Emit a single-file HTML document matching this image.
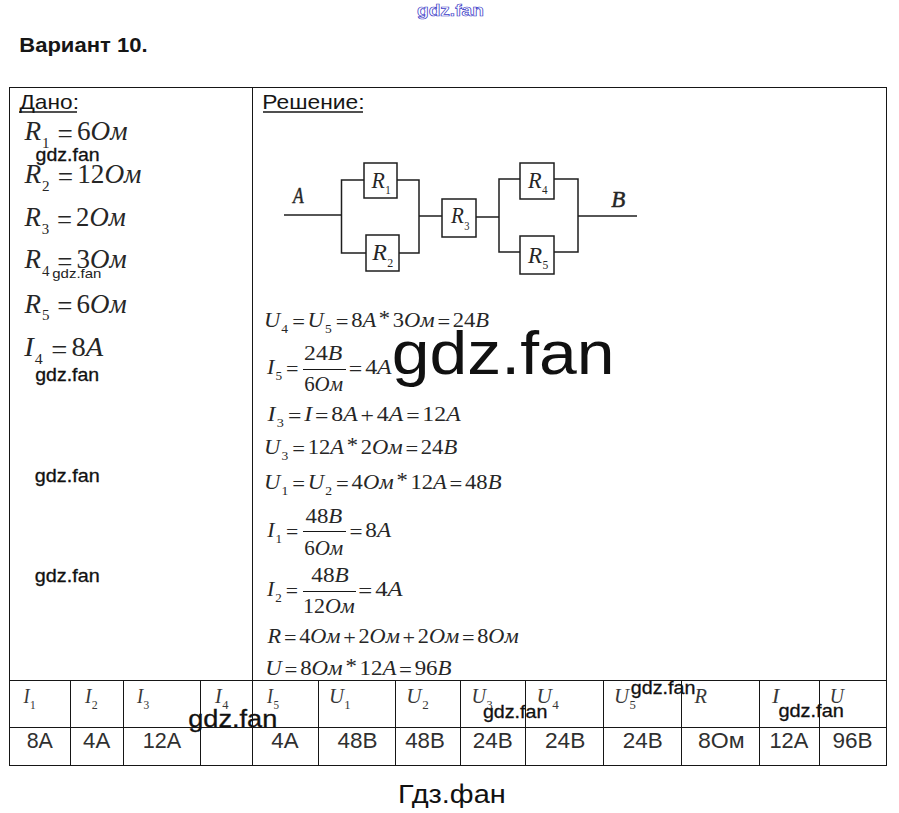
<!DOCTYPE html>
<html><head><meta charset="utf-8"><style>
html,body{margin:0;padding:0;background:#fff;}
svg{display:block;}
</style></head><body>
<svg width="899" height="813" viewBox="0 0 899 813">
<rect width="899" height="813" fill="#fff"/>
<line x1="9" y1="87.5" x2="887" y2="87.5" stroke="#161616" stroke-width="1"/>
<line x1="9" y1="680.5" x2="887" y2="680.5" stroke="#161616" stroke-width="1"/>
<line x1="9" y1="727.5" x2="887" y2="727.5" stroke="#161616" stroke-width="1"/>
<line x1="9" y1="765.5" x2="887" y2="765.5" stroke="#161616" stroke-width="1"/>
<line x1="9.5" y1="87" x2="9.5" y2="766" stroke="#161616" stroke-width="1"/>
<line x1="252.5" y1="87" x2="252.5" y2="766" stroke="#161616" stroke-width="1"/>
<line x1="886.5" y1="87" x2="886.5" y2="766" stroke="#161616" stroke-width="1"/>
<line x1="70.5" y1="680" x2="70.5" y2="766" stroke="#161616" stroke-width="1"/>
<line x1="123.5" y1="680" x2="123.5" y2="766" stroke="#161616" stroke-width="1"/>
<line x1="200.5" y1="680" x2="200.5" y2="766" stroke="#161616" stroke-width="1"/>
<line x1="318.5" y1="680" x2="318.5" y2="766" stroke="#161616" stroke-width="1"/>
<line x1="395.5" y1="680" x2="395.5" y2="766" stroke="#161616" stroke-width="1"/>
<line x1="460.5" y1="680" x2="460.5" y2="766" stroke="#161616" stroke-width="1"/>
<line x1="525.5" y1="680" x2="525.5" y2="766" stroke="#161616" stroke-width="1"/>
<line x1="603.5" y1="680" x2="603.5" y2="766" stroke="#161616" stroke-width="1"/>
<line x1="681.5" y1="680" x2="681.5" y2="766" stroke="#161616" stroke-width="1"/>
<line x1="759.5" y1="680" x2="759.5" y2="766" stroke="#161616" stroke-width="1"/>
<line x1="819.5" y1="680" x2="819.5" y2="766" stroke="#161616" stroke-width="1"/>
<line x1="19" y1="112" x2="77" y2="112" stroke="#161616" stroke-width="1.7"/>
<line x1="263" y1="112" x2="363" y2="112" stroke="#161616" stroke-width="1.7"/>
<polyline points="284,215 341.5,215" fill="none" stroke="#1e1e1e" stroke-width="1.5"/>
<polyline points="364,180 341.5,180 341.5,253 366,253" fill="none" stroke="#1e1e1e" stroke-width="1.5"/>
<polyline points="397,180 419,180 419,253 399,253" fill="none" stroke="#1e1e1e" stroke-width="1.5"/>
<polyline points="419,216 442,216" fill="none" stroke="#1e1e1e" stroke-width="1.5"/>
<rect x="364" y="163" width="33" height="35" fill="none" stroke="#1e1e1e" stroke-width="1.5"/>
<rect x="366" y="235" width="33" height="36" fill="none" stroke="#1e1e1e" stroke-width="1.5"/>
<rect x="442" y="199" width="34" height="38" fill="none" stroke="#1e1e1e" stroke-width="1.5"/>
<polyline points="476,217 499,217" fill="none" stroke="#1e1e1e" stroke-width="1.5"/>
<polyline points="520,179 499,179 499,252 520,252" fill="none" stroke="#1e1e1e" stroke-width="1.5"/>
<polyline points="554,179 578,179 578,252 554,252" fill="none" stroke="#1e1e1e" stroke-width="1.5"/>
<rect x="520" y="163" width="34" height="36" fill="none" stroke="#1e1e1e" stroke-width="1.5"/>
<rect x="520" y="236" width="34" height="38" fill="none" stroke="#1e1e1e" stroke-width="1.5"/>
<polyline points="578,216 637,216" fill="none" stroke="#1e1e1e" stroke-width="1.5"/>
<line x1="303" y1="369.5" x2="346" y2="369.5" stroke="#161616" stroke-width="1"/>
<line x1="303" y1="531.5" x2="346" y2="531.5" stroke="#161616" stroke-width="1"/>
<line x1="303" y1="591.5" x2="356" y2="591.5" stroke="#161616" stroke-width="1"/>
<text x="417.02" y="16.4" font-family="Liberation Sans" font-size="17" fill="#ffffff" font-weight="bold" textLength="66.79" lengthAdjust="spacingAndGlyphs" stroke="#3c3cc8" stroke-width="0.7">gdz.fan</text>
<text x="19.22" y="51.7" font-family="Liberation Sans" font-size="21" fill="#161616" font-weight="bold" textLength="128.34" lengthAdjust="spacingAndGlyphs">Вариант 10.</text>
<text x="19.46" y="108.9" font-family="Liberation Sans" font-size="21" fill="#161616" textLength="59.49" lengthAdjust="spacingAndGlyphs">Дано:</text>
<text x="262.38" y="108.9" font-family="Liberation Sans" font-size="21" fill="#161616" textLength="102.20" lengthAdjust="spacingAndGlyphs">Решение:</text>
<text x="24.44" y="140" font-family="Liberation Serif" font-size="27" fill="#262626" textLength="103.06" lengthAdjust="spacingAndGlyphs"><tspan font-style="italic">R</tspan><tspan font-style="normal" font-size="15" dy="7.8" dx="1.00">1</tspan><tspan font-style="normal" dy="-5.1" dx="8.00">=</tspan><tspan font-style="normal" dy="-2.7" dx="4.00">6</tspan><tspan font-style="italic">O</tspan><tspan font-style="italic">м</tspan></text>
<text x="24.45" y="183" font-family="Liberation Serif" font-size="27" fill="#262626" textLength="117.07" lengthAdjust="spacingAndGlyphs"><tspan font-style="italic">R</tspan><tspan font-style="normal" font-size="15" dy="7.8" dx="1.00">2</tspan><tspan font-style="normal" dy="-5.1" dx="8.00">=</tspan><tspan font-style="normal" dy="-2.7" dx="4.00">1</tspan><tspan font-style="normal">2</tspan><tspan font-style="italic">O</tspan><tspan font-style="italic">м</tspan></text>
<text x="24.44" y="226" font-family="Liberation Serif" font-size="27" fill="#262626" textLength="101.34" lengthAdjust="spacingAndGlyphs"><tspan font-style="italic">R</tspan><tspan font-style="normal" font-size="15" dy="7.8" dx="1.00">3</tspan><tspan font-style="normal" dy="-5.1" dx="8.00">=</tspan><tspan font-style="normal" dy="-2.7" dx="4.00">2</tspan><tspan font-style="italic">O</tspan><tspan font-style="italic">м</tspan></text>
<text x="24.45" y="268.4" font-family="Liberation Serif" font-size="27" fill="#262626" textLength="102.14" lengthAdjust="spacingAndGlyphs"><tspan font-style="italic">R</tspan><tspan font-style="normal" font-size="15" dy="7.8" dx="1.00">4</tspan><tspan font-style="normal" dy="-5.1" dx="8.00">=</tspan><tspan font-style="normal" dy="-2.7" dx="4.00">3</tspan><tspan font-style="italic">O</tspan><tspan font-style="italic">м</tspan></text>
<text x="24.45" y="312.5" font-family="Liberation Serif" font-size="27" fill="#262626" textLength="102.14" lengthAdjust="spacingAndGlyphs"><tspan font-style="italic">R</tspan><tspan font-style="normal" font-size="15" dy="7.8" dx="1.00">5</tspan><tspan font-style="normal" dy="-5.1" dx="8.00">=</tspan><tspan font-style="normal" dy="-2.7" dx="4.00">6</tspan><tspan font-style="italic">O</tspan><tspan font-style="italic">м</tspan></text>
<text x="24.19" y="356" font-family="Liberation Serif" font-size="27" fill="#262626" textLength="79.02" lengthAdjust="spacingAndGlyphs"><tspan font-style="italic">I</tspan><tspan font-style="normal" font-size="15" dy="7.8" dx="1.00">4</tspan><tspan font-style="normal" dy="-5.1" dx="8.00">=</tspan><tspan font-style="normal" dy="-2.7" dx="4.00">8</tspan><tspan font-style="italic">A</tspan></text>
<text x="293.09" y="203" font-family="Liberation Serif" font-size="24" fill="#262626" font-style="italic" textLength="10.67" lengthAdjust="spacingAndGlyphs" stroke="#262626" stroke-width="0.5">A</text>
<text x="611.20" y="207" font-family="Liberation Serif" font-size="24" fill="#262626" font-style="italic" textLength="14.01" lengthAdjust="spacingAndGlyphs" stroke="#262626" stroke-width="0.5">B</text>
<text x="371.40" y="187.6" font-family="Liberation Serif" font-size="24" fill="#262626" textLength="19.28" lengthAdjust="spacingAndGlyphs"><tspan font-style="italic">R</tspan><tspan font-style="normal" font-size="12" dy="6.5" dx="0.50">1</tspan></text>
<text x="372.25" y="260" font-family="Liberation Serif" font-size="24" fill="#262626" textLength="21.09" lengthAdjust="spacingAndGlyphs"><tspan font-style="italic">R</tspan><tspan font-style="normal" font-size="12" dy="6.5" dx="0.50">2</tspan></text>
<text x="450.89" y="223.4" font-family="Liberation Serif" font-size="24" fill="#262626" textLength="18.53" lengthAdjust="spacingAndGlyphs"><tspan font-style="italic">R</tspan><tspan font-style="normal" font-size="12" dy="6.5" dx="0.50">3</tspan></text>
<text x="527.94" y="187.9" font-family="Liberation Serif" font-size="24" fill="#262626" textLength="19.63" lengthAdjust="spacingAndGlyphs"><tspan font-style="italic">R</tspan><tspan font-style="normal" font-size="12" dy="6.5" dx="0.50">4</tspan></text>
<text x="527.95" y="262.6" font-family="Liberation Serif" font-size="24" fill="#262626" textLength="20.37" lengthAdjust="spacingAndGlyphs"><tspan font-style="italic">R</tspan><tspan font-style="normal" font-size="12" dy="6.5" dx="0.50">5</tspan></text>
<text x="263.95" y="326.7" font-family="Liberation Serif" font-size="20" fill="#262626" textLength="225.17" lengthAdjust="spacingAndGlyphs"><tspan font-style="italic">U</tspan><tspan font-style="normal" font-size="12.0" dy="6.0" dx="1.00">4</tspan><tspan font-style="normal" dy="-4.0" dx="3.60">=</tspan><tspan font-style="italic" dy="-2.0" dx="2.40">U</tspan><tspan font-style="normal" font-size="12.0" dy="6.0" dx="1.00">5</tspan><tspan font-style="normal" dy="-4.0" dx="3.60">=</tspan><tspan font-style="normal" dy="-2.0" dx="2.40">8</tspan><tspan font-style="italic">A</tspan><tspan font-style="normal" dy="-1.8" dx="2.40">*</tspan><tspan font-style="normal" dy="1.8" dx="2.40">3</tspan><tspan font-style="italic">O</tspan><tspan font-style="italic">м</tspan><tspan font-style="normal" dy="2.0" dx="2.40">=</tspan><tspan font-style="normal" dy="-2.0" dx="2.40">2</tspan><tspan font-style="normal">4</tspan><tspan font-style="italic">B</tspan></text>
<text x="266.93" y="374.3" font-family="Liberation Serif" font-size="20" fill="#262626" textLength="31.59" lengthAdjust="spacingAndGlyphs"><tspan font-style="italic">I</tspan><tspan font-style="normal" font-size="12.0" dy="6.0" dx="1.00">5</tspan><tspan font-style="normal" dy="-4.0" dx="3.60">=</tspan></text>
<text x="304.06" y="360" font-family="Liberation Serif" font-size="20" fill="#262626" textLength="38.15" lengthAdjust="spacingAndGlyphs"><tspan font-style="normal">2</tspan><tspan font-style="normal">4</tspan><tspan font-style="italic">B</tspan></text>
<text x="304.21" y="391" font-family="Liberation Serif" font-size="20" fill="#262626" textLength="38.78" lengthAdjust="spacingAndGlyphs"><tspan font-style="normal">6</tspan><tspan font-style="italic">O</tspan><tspan font-style="italic">м</tspan></text>
<text x="346.41" y="374.3" font-family="Liberation Serif" font-size="20" fill="#262626" textLength="42.86" lengthAdjust="spacingAndGlyphs"><tspan font-style="normal" dy="2.0" dx="2.40">=</tspan><tspan font-style="normal" dy="-2.0" dx="2.40">4</tspan><tspan font-style="italic">A</tspan></text>
<text x="267.56" y="421" font-family="Liberation Serif" font-size="20" fill="#262626" textLength="193.10" lengthAdjust="spacingAndGlyphs"><tspan font-style="italic">I</tspan><tspan font-style="normal" font-size="12.0" dy="6.0" dx="1.00">3</tspan><tspan font-style="normal" dy="-4.0" dx="3.60">=</tspan><tspan font-style="italic" dy="-2.0" dx="2.40">I</tspan><tspan font-style="normal" dy="2.0" dx="2.40">=</tspan><tspan font-style="normal" dy="-2.0" dx="2.40">8</tspan><tspan font-style="italic">A</tspan><tspan font-style="normal" dy="2.0" dx="2.40">+</tspan><tspan font-style="normal" dy="-2.0" dx="2.40">4</tspan><tspan font-style="italic">A</tspan><tspan font-style="normal" dy="2.0" dx="2.40">=</tspan><tspan font-style="normal" dy="-2.0" dx="2.40">1</tspan><tspan font-style="normal">2</tspan><tspan font-style="italic">A</tspan></text>
<text x="264.00" y="454" font-family="Liberation Serif" font-size="20" fill="#262626" textLength="193.19" lengthAdjust="spacingAndGlyphs"><tspan font-style="italic">U</tspan><tspan font-style="normal" font-size="12.0" dy="6.0" dx="1.00">3</tspan><tspan font-style="normal" dy="-4.0" dx="3.60">=</tspan><tspan font-style="normal" dy="-2.0" dx="2.40">1</tspan><tspan font-style="normal">2</tspan><tspan font-style="italic">A</tspan><tspan font-style="normal" dy="-1.8" dx="2.40">*</tspan><tspan font-style="normal" dy="1.8" dx="2.40">2</tspan><tspan font-style="italic">O</tspan><tspan font-style="italic">м</tspan><tspan font-style="normal" dy="2.0" dx="2.40">=</tspan><tspan font-style="normal" dy="-2.0" dx="2.40">2</tspan><tspan font-style="normal">4</tspan><tspan font-style="italic">B</tspan></text>
<text x="263.95" y="488.7" font-family="Liberation Serif" font-size="20" fill="#262626" textLength="237.57" lengthAdjust="spacingAndGlyphs"><tspan font-style="italic">U</tspan><tspan font-style="normal" font-size="12.0" dy="6.0" dx="1.00">1</tspan><tspan font-style="normal" dy="-4.0" dx="3.60">=</tspan><tspan font-style="italic" dy="-2.0" dx="2.40">U</tspan><tspan font-style="normal" font-size="12.0" dy="6.0" dx="1.00">2</tspan><tspan font-style="normal" dy="-4.0" dx="3.60">=</tspan><tspan font-style="normal" dy="-2.0" dx="2.40">4</tspan><tspan font-style="italic">O</tspan><tspan font-style="italic">м</tspan><tspan font-style="normal" dy="-1.8" dx="2.40">*</tspan><tspan font-style="normal" dy="1.8" dx="2.40">1</tspan><tspan font-style="normal">2</tspan><tspan font-style="italic">A</tspan><tspan font-style="normal" dy="2.0" dx="2.40">=</tspan><tspan font-style="normal" dy="-2.0" dx="2.40">4</tspan><tspan font-style="normal">8</tspan><tspan font-style="italic">B</tspan></text>
<text x="267.19" y="537.3" font-family="Liberation Serif" font-size="20" fill="#262626" textLength="31.02" lengthAdjust="spacingAndGlyphs"><tspan font-style="italic">I</tspan><tspan font-style="normal" font-size="12.0" dy="6.0" dx="1.00">1</tspan><tspan font-style="normal" dy="-4.0" dx="3.60">=</tspan></text>
<text x="305.50" y="522.8" font-family="Liberation Serif" font-size="20" fill="#262626" textLength="36.72" lengthAdjust="spacingAndGlyphs"><tspan font-style="normal">4</tspan><tspan font-style="normal">8</tspan><tspan font-style="italic">B</tspan></text>
<text x="304.20" y="555" font-family="Liberation Serif" font-size="20" fill="#262626" textLength="39.09" lengthAdjust="spacingAndGlyphs"><tspan font-style="normal">6</tspan><tspan font-style="italic">O</tspan><tspan font-style="italic">м</tspan></text>
<text x="347.12" y="537.3" font-family="Liberation Serif" font-size="20" fill="#262626" textLength="41.53" lengthAdjust="spacingAndGlyphs"><tspan font-style="normal" dy="2.0" dx="2.40">=</tspan><tspan font-style="normal" dy="-2.0" dx="2.40">8</tspan><tspan font-style="italic">A</tspan></text>
<text x="267.00" y="596" font-family="Liberation Serif" font-size="20" fill="#262626" textLength="30.98" lengthAdjust="spacingAndGlyphs"><tspan font-style="italic">I</tspan><tspan font-style="normal" font-size="12.0" dy="6.0" dx="1.00">2</tspan><tspan font-style="normal" dy="-4.0" dx="3.60">=</tspan></text>
<text x="311.34" y="581.7" font-family="Liberation Serif" font-size="20" fill="#262626" textLength="37.37" lengthAdjust="spacingAndGlyphs"><tspan font-style="normal">4</tspan><tspan font-style="normal">8</tspan><tspan font-style="italic">B</tspan></text>
<text x="303.06" y="612.8" font-family="Liberation Serif" font-size="20" fill="#262626" textLength="51.68" lengthAdjust="spacingAndGlyphs"><tspan font-style="normal">1</tspan><tspan font-style="normal">2</tspan><tspan font-style="italic">O</tspan><tspan font-style="italic">м</tspan></text>
<text x="355.84" y="596" font-family="Liberation Serif" font-size="20" fill="#262626" textLength="44.41" lengthAdjust="spacingAndGlyphs"><tspan font-style="normal" dy="2.0" dx="2.40">=</tspan><tspan font-style="normal" dy="-2.0" dx="2.40">4</tspan><tspan font-style="italic">A</tspan></text>
<text x="267.64" y="643" font-family="Liberation Serif" font-size="20" fill="#262626" textLength="250.99" lengthAdjust="spacingAndGlyphs"><tspan font-style="italic">R</tspan><tspan font-style="normal" dy="2.0" dx="2.40">=</tspan><tspan font-style="normal" dy="-2.0" dx="2.40">4</tspan><tspan font-style="italic">O</tspan><tspan font-style="italic">м</tspan><tspan font-style="normal" dy="2.0" dx="2.40">+</tspan><tspan font-style="normal" dy="-2.0" dx="2.40">2</tspan><tspan font-style="italic">O</tspan><tspan font-style="italic">м</tspan><tspan font-style="normal" dy="2.0" dx="2.40">+</tspan><tspan font-style="normal" dy="-2.0" dx="2.40">2</tspan><tspan font-style="italic">O</tspan><tspan font-style="italic">м</tspan><tspan font-style="normal" dy="2.0" dx="2.40">=</tspan><tspan font-style="normal" dy="-2.0" dx="2.40">8</tspan><tspan font-style="italic">O</tspan><tspan font-style="italic">м</tspan></text>
<text x="265.37" y="675" font-family="Liberation Serif" font-size="20" fill="#262626" textLength="186.10" lengthAdjust="spacingAndGlyphs"><tspan font-style="italic">U</tspan><tspan font-style="normal" dy="2.0" dx="2.40">=</tspan><tspan font-style="normal" dy="-2.0" dx="2.40">8</tspan><tspan font-style="italic">O</tspan><tspan font-style="italic">м</tspan><tspan font-style="normal" dy="-1.8" dx="2.40">*</tspan><tspan font-style="normal" dy="1.8" dx="2.40">1</tspan><tspan font-style="normal">2</tspan><tspan font-style="italic">A</tspan><tspan font-style="normal" dy="2.0" dx="2.40">=</tspan><tspan font-style="normal" dy="-2.0" dx="2.40">9</tspan><tspan font-style="normal">6</tspan><tspan font-style="italic">B</tspan></text>
<text x="23.39" y="702.8" font-family="Liberation Serif" font-size="22" fill="#383838" textLength="12.24" lengthAdjust="spacingAndGlyphs"><tspan font-style="italic">I</tspan><tspan font-style="normal" font-size="13.5" dy="6" dx="0.50">1</tspan></text>
<text x="84.88" y="702.8" font-family="Liberation Serif" font-size="22" fill="#383838" textLength="12.86" lengthAdjust="spacingAndGlyphs"><tspan font-style="italic">I</tspan><tspan font-style="normal" font-size="13.5" dy="6" dx="0.50">2</tspan></text>
<text x="136.91" y="702.8" font-family="Liberation Serif" font-size="22" fill="#383838" textLength="12.35" lengthAdjust="spacingAndGlyphs"><tspan font-style="italic">I</tspan><tspan font-style="normal" font-size="13.5" dy="6" dx="0.50">3</tspan></text>
<text x="215.00" y="702.8" font-family="Liberation Serif" font-size="22" fill="#383838" textLength="13.41" lengthAdjust="spacingAndGlyphs"><tspan font-style="italic">I</tspan><tspan font-style="normal" font-size="13.5" dy="6" dx="0.50">4</tspan></text>
<text x="267.07" y="702.8" font-family="Liberation Serif" font-size="22" fill="#383838" textLength="11.94" lengthAdjust="spacingAndGlyphs"><tspan font-style="italic">I</tspan><tspan font-style="normal" font-size="13.5" dy="6" dx="0.50">5</tspan></text>
<text x="328.91" y="702.8" font-family="Liberation Serif" font-size="22" fill="#383838" textLength="21.74" lengthAdjust="spacingAndGlyphs"><tspan font-style="italic">U</tspan><tspan font-style="normal" font-size="13.5" dy="6" dx="0.50">1</tspan></text>
<text x="406.36" y="702.8" font-family="Liberation Serif" font-size="22" fill="#383838" textLength="22.32" lengthAdjust="spacingAndGlyphs"><tspan font-style="italic">U</tspan><tspan font-style="normal" font-size="13.5" dy="6" dx="0.50">2</tspan></text>
<text x="471.47" y="702.8" font-family="Liberation Serif" font-size="22" fill="#383838" textLength="21.09" lengthAdjust="spacingAndGlyphs"><tspan font-style="italic">U</tspan><tspan font-style="normal" font-size="13.5" dy="6" dx="0.50">3</tspan></text>
<text x="536.52" y="702.8" font-family="Liberation Serif" font-size="22" fill="#383838" textLength="22.33" lengthAdjust="spacingAndGlyphs"><tspan font-style="italic">U</tspan><tspan font-style="normal" font-size="13.5" dy="6" dx="0.50">4</tspan></text>
<text x="614.07" y="702.8" font-family="Liberation Serif" font-size="22" fill="#383838" textLength="21.81" lengthAdjust="spacingAndGlyphs"><tspan font-style="italic">U</tspan><tspan font-style="normal" font-size="13.5" dy="6" dx="0.50">5</tspan></text>
<text x="694.41" y="702.8" font-family="Liberation Serif" font-size="22" fill="#383838" textLength="12.50" lengthAdjust="spacingAndGlyphs"><tspan font-style="italic">R</tspan></text>
<text x="772.00" y="702.8" font-family="Liberation Serif" font-size="22" fill="#383838"><tspan font-style="italic">I</tspan></text>
<text x="829.82" y="702.8" font-family="Liberation Serif" font-size="22" fill="#383838" textLength="14.16" lengthAdjust="spacingAndGlyphs"><tspan font-style="italic">U</tspan></text>
<text x="26.71" y="747.7" font-family="Liberation Sans" font-size="22.5" fill="#303030" textLength="26.21" lengthAdjust="spacingAndGlyphs">8A</text>
<text x="83.05" y="747.7" font-family="Liberation Sans" font-size="22.5" fill="#303030" textLength="27.13" lengthAdjust="spacingAndGlyphs">4A</text>
<text x="142.81" y="747.7" font-family="Liberation Sans" font-size="22.5" fill="#303030" textLength="38.42" lengthAdjust="spacingAndGlyphs">12A</text>
<text x="271.35" y="747.7" font-family="Liberation Sans" font-size="22.5" fill="#303030" textLength="27.24" lengthAdjust="spacingAndGlyphs">4A</text>
<text x="337.55" y="747.7" font-family="Liberation Sans" font-size="22.5" fill="#303030" textLength="40.06" lengthAdjust="spacingAndGlyphs">48B</text>
<text x="405.13" y="747.7" font-family="Liberation Sans" font-size="22.5" fill="#303030" textLength="39.64" lengthAdjust="spacingAndGlyphs">48B</text>
<text x="472.83" y="747.7" font-family="Liberation Sans" font-size="22.5" fill="#303030" textLength="39.97" lengthAdjust="spacingAndGlyphs">24B</text>
<text x="544.99" y="747.7" font-family="Liberation Sans" font-size="22.5" fill="#303030" textLength="40.31" lengthAdjust="spacingAndGlyphs">24B</text>
<text x="622.83" y="747.7" font-family="Liberation Sans" font-size="22.5" fill="#303030" textLength="39.97" lengthAdjust="spacingAndGlyphs">24B</text>
<text x="698.02" y="747.7" font-family="Liberation Sans" font-size="22.5" fill="#303030" textLength="46.65" lengthAdjust="spacingAndGlyphs">8Ом</text>
<text x="769.45" y="747.7" font-family="Liberation Sans" font-size="22.5" fill="#303030" textLength="38.95" lengthAdjust="spacingAndGlyphs">12A</text>
<text x="832.48" y="747.7" font-family="Liberation Sans" font-size="22.5" fill="#303030" textLength="40.14" lengthAdjust="spacingAndGlyphs">96B</text>
<text x="35.60" y="161.4" font-family="Liberation Sans" font-size="18.5" fill="#111111" textLength="64.09" lengthAdjust="spacingAndGlyphs" stroke="#111" stroke-width="0.3">gdz.fan</text>
<text x="35.24" y="381" font-family="Liberation Sans" font-size="18.5" fill="#111111" textLength="63.89" lengthAdjust="spacingAndGlyphs" stroke="#111" stroke-width="0.3">gdz.fan</text>
<text x="34.88" y="482.3" font-family="Liberation Sans" font-size="18.5" fill="#111111" textLength="64.76" lengthAdjust="spacingAndGlyphs" stroke="#111" stroke-width="0.3">gdz.fan</text>
<text x="34.88" y="582" font-family="Liberation Sans" font-size="18.5" fill="#111111" textLength="64.76" lengthAdjust="spacingAndGlyphs" stroke="#111" stroke-width="0.3">gdz.fan</text>
<text x="482.92" y="717.8" font-family="Liberation Sans" font-size="18.5" fill="#111111" textLength="64.40" lengthAdjust="spacingAndGlyphs" stroke="#111" stroke-width="0.3">gdz.fan</text>
<text x="630.88" y="694.1" font-family="Liberation Sans" font-size="18.5" fill="#111111" textLength="64.55" lengthAdjust="spacingAndGlyphs" stroke="#111" stroke-width="0.3">gdz.fan</text>
<text x="778.42" y="717" font-family="Liberation Sans" font-size="18.5" fill="#111111" textLength="65.42" lengthAdjust="spacingAndGlyphs" stroke="#111" stroke-width="0.3">gdz.fan</text>
<text x="52.27" y="278.3" font-family="Liberation Sans" font-size="13" fill="#222" textLength="49.07" lengthAdjust="spacingAndGlyphs">gdz.fan</text>
<text x="188.27" y="726.5" font-family="Liberation Sans" font-size="23.5" fill="#111111" textLength="88.97" lengthAdjust="spacingAndGlyphs" stroke="#111" stroke-width="0.3">gdz.fan</text>
<text x="391.89" y="373.8" font-family="Liberation Sans" font-size="61" fill="#111111" textLength="222.60" lengthAdjust="spacingAndGlyphs">gdz.fan</text>
<text x="397.94" y="803" font-family="Liberation Sans" font-size="26" fill="#111111" textLength="107.82" lengthAdjust="spacingAndGlyphs">Гдз.фан</text>
</svg>
</body></html>
